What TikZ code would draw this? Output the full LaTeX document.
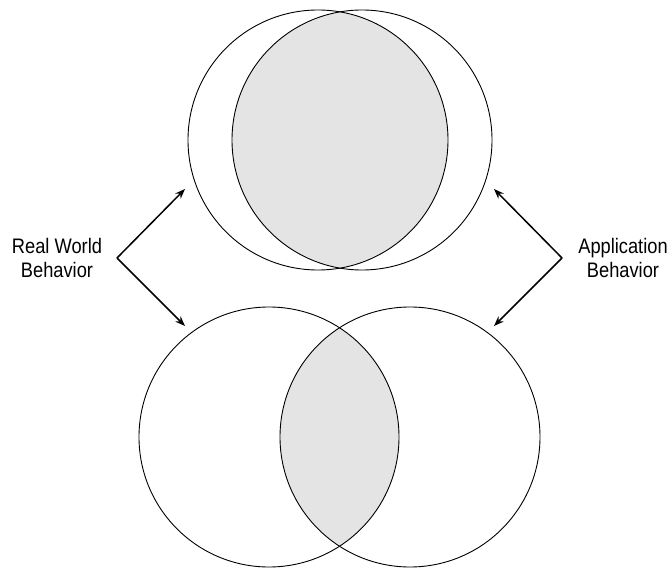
\documentclass[tikz,border=0pt]{standalone}
\usepackage{fontspec}
\setmainfont[FakeStretch=0.87]{Liberation Sans}
\usetikzlibrary{arrows.meta, positioning}
\definecolor{overlap}{HTML}{E4E4E4}

\begin{document}
\begin{tikzpicture}[x=1pt,y=-1pt,>={Stealth[length=10pt,width=7.5pt]},
    venn/.style={draw, circle, line width=0.9pt, minimum size=260pt, inner sep=0pt},
    pointer/.style={->, line width=1.5pt},
    sidetext/.style={align=center, inner sep=0pt, font=\fontsize{21}{24}\selectfont}]
  \useasboundingbox (0,0) rectangle (672,569);

  % shaded overlaps
  \begin{scope}
    \clip (318,140) circle (130pt);
    \fill[overlap] (362,140) circle (130pt);
  \end{scope}
  \begin{scope}
    \clip (269,437) circle (130pt);
    \fill[overlap] (410,437) circle (130pt);
  \end{scope}

  \node[venn] (t1) at (318,140) {};
  \node[venn] (t2) at (362,140) {};
  \node[venn] (b1) at (269,437) {};
  \node[venn] (b2) at (410,437) {};

  \node[sidetext] (rw) at (57,258) {Real World\\Behavior};
  \node[sidetext] (ab) at (623,258) {Application\\Behavior};

  \coordinate (rwv) at (117,258);
  \coordinate (rwup) at (185,189);
  \coordinate (rwdn) at (185,326);
  \coordinate (abv) at (562,258);
  \coordinate (abup) at (494,189);
  \coordinate (abdn) at (494,326);

  \draw[pointer] (rwv) -- (rwup);
  \draw[pointer] (rwv) -- (rwdn);
  \draw[pointer] (abv) -- (abup);
  \draw[pointer] (abv) -- (abdn);
\end{tikzpicture}
\end{document}
